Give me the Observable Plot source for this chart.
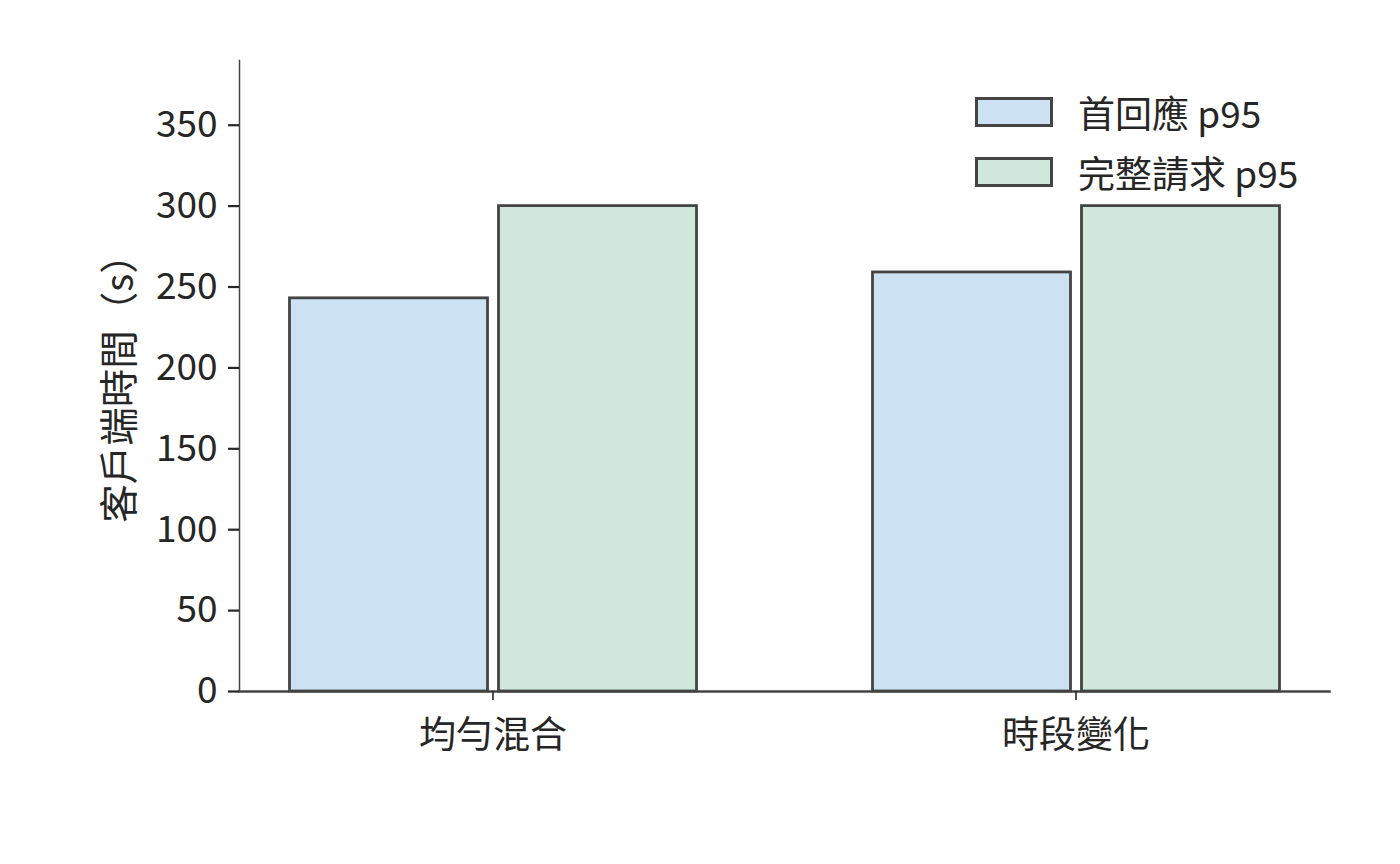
<!DOCTYPE html>
<html>
<head>
<meta charset="utf-8">
<script src="https://cdn.jsdelivr.net/npm/d3@7"></script>
<script src="https://cdn.jsdelivr.net/npm/@observablehq/plot@0.6"></script>
<style>
  body { margin: 0; background: #fff; }
  #wrap { position: relative; width: 1400px; height: 864px; font-family: "Noto Sans CJK TC", "Noto Sans CJK SC", sans-serif; color: #262626; }
  .legend { position: absolute; left: 975px; top: 96px; font-size: 37px; line-height: 1; }
  .legend .row { display: flex; align-items: center; height: 60px; position: absolute; left: 0; white-space: nowrap; }
  .legend .sw { width: 72px; height: 24px; border: 3px solid #444; box-sizing: content-box; margin-right: 25px; }
</style>
</head>
<body>
<div id="wrap"></div>
<script>
const categories = ["均勻混合", "時段變化"];
const series = ["首回應 p95", "完整請求 p95"];
const firstResponseP95 = [243, 259];
const fullRequestP95 = [300, 300];
const yTicks = [0, 50, 100, 150, 200, 250, 300, 350];
const seriesColors = ["#cce2f3", "#d0e8dc"];
const yLabel = "客戶端時間（s）";

const data = categories.flatMap((c, i) => [
  {category: c, series: series[0], value: firstResponseP95[i]},
  {category: c, series: series[1], value: fullRequestP95[i]}
]);

const fontFamily = '"Noto Sans CJK TC", "Noto Sans CJK SC", sans-serif';

const chart = Plot.plot({
  width: 1400,
  height: 864,
  marginLeft: 238,
  marginRight: 70,
  marginTop: 60,
  marginBottom: 173,
  style: {fontFamily, fontSize: "37px", color: "#262626", background: "#fff"},
  fx: {domain: categories, paddingInner: 0.13, paddingOuter: 0, label: null},
  x: {domain: series, paddingInner: 0, paddingOuter: 0.21, axis: null},
  y: {domain: [0, 390], label: null},
  color: {domain: series, range: seriesColors},
  marks: [
    Plot.barY(data, {
      fx: "category", x: "series", y: "value",
      fill: "series", stroke: "#444", strokeWidth: 2.8,
      insetLeft: 5.5, insetRight: 5.5
    }),
    Plot.frame({anchor: "bottom", facet: "super", stroke: "#444", strokeWidth: 2.5}),
    Plot.frame({anchor: "left", facet: "super", stroke: "#444", strokeWidth: 1.5}),
    Plot.axisY({
      ticks: yTicks, tickSize: 11, tickPadding: 11, strokeWidth: 2.2, stroke: "#262626",
      tickFormat: d => String(d), label: null
    }),
    Plot.text([yLabel], {
      text: d => d, facet: "super", frameAnchor: "left", textAnchor: "middle", rotate: -90,
      dx: -119, dy: 3, fontSize: 38.5, fill: "#262626"
    }),
    Plot.axisFx({anchor: "bottom", tickSize: 9, tickPadding: 21, strokeWidth: 1.6, stroke: "#262626", label: null})
  ]
});

const wrap = document.getElementById("wrap");
wrap.appendChild(chart);

const legend = document.createElement("div");
legend.className = "legend";
series.forEach((s, i) => {
  const row = document.createElement("div");
  row.className = "row";
  row.style.top = (i * 60 - 14) + "px";
  const sw = document.createElement("span");
  sw.className = "sw";
  sw.style.background = seriesColors[i];
  const t = document.createElement("span");
  t.textContent = s;
  row.appendChild(sw);
  row.appendChild(t);
  legend.appendChild(row);
});
wrap.appendChild(legend);
</script>
</body>
</html>
